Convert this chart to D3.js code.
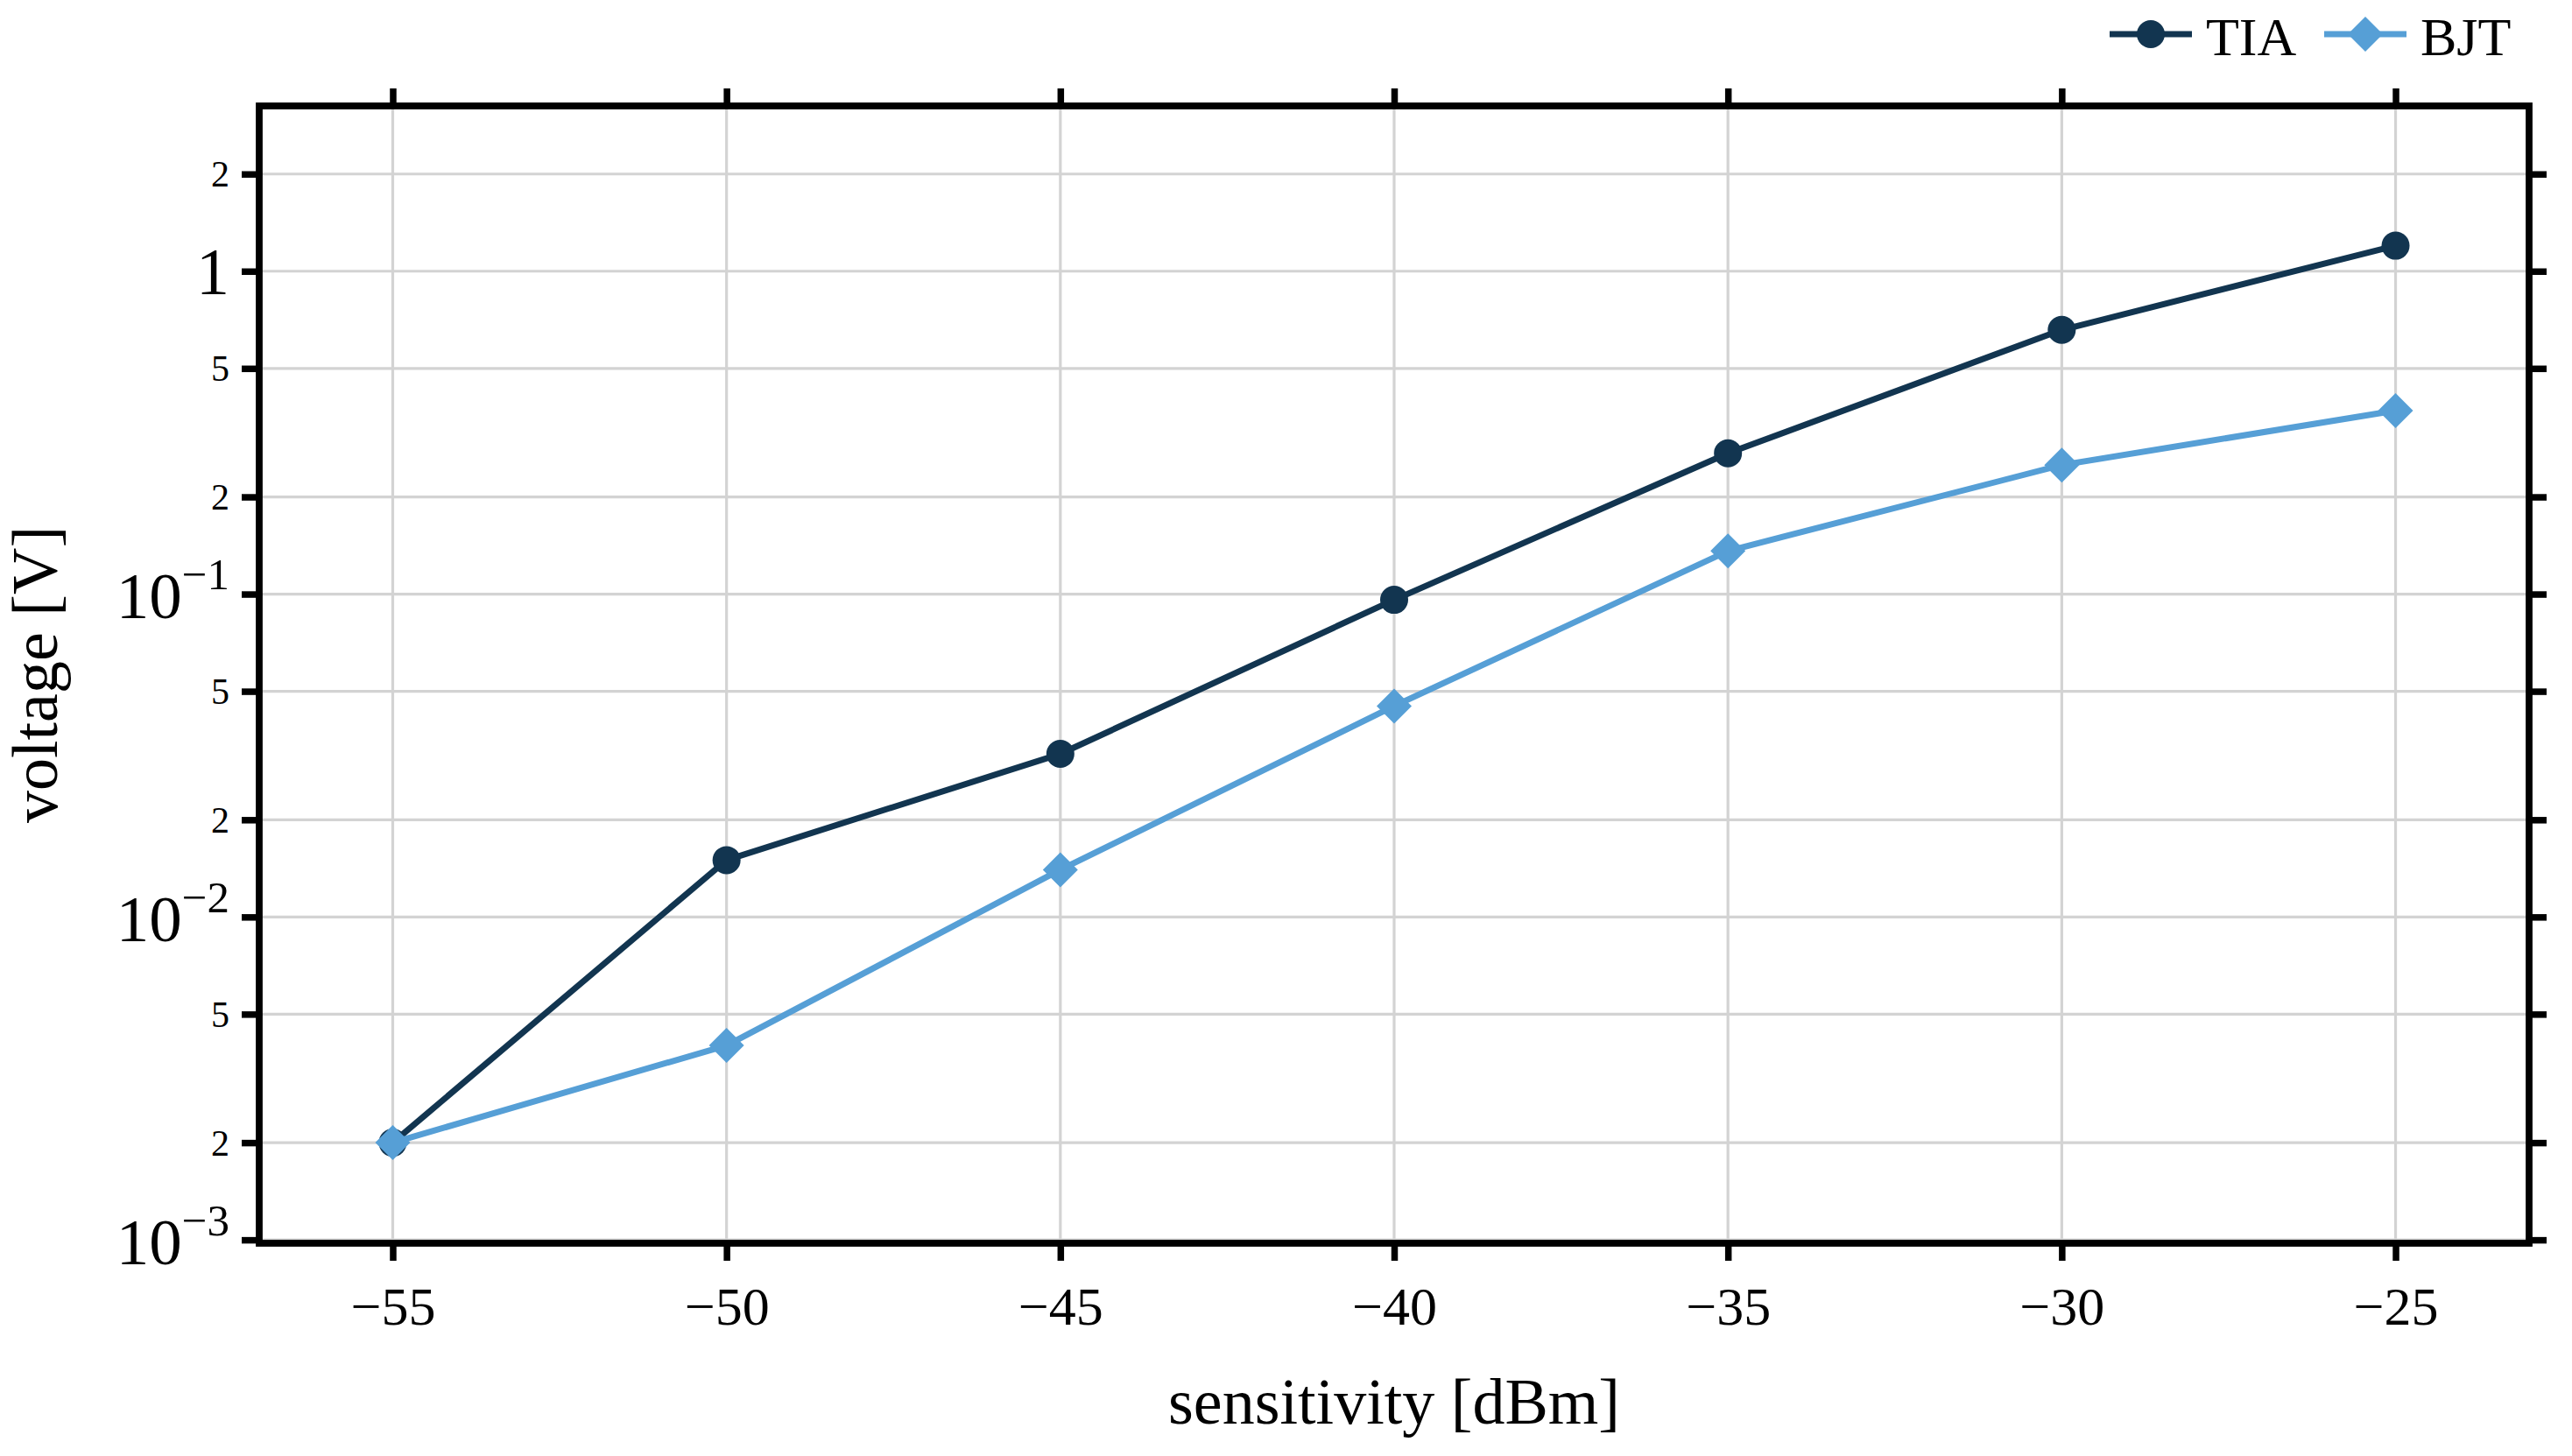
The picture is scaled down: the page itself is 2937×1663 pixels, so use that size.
<!DOCTYPE html>
<html>
<head>
<meta charset="utf-8">
<script src="https://cdn.jsdelivr.net/npm/d3@7"></script>
<style>
  body { margin: 0; background: #fff; }
  text { font-family: "Liberation Serif", "Times New Roman", serif; }
</style>
</head>
<body>
<div id="chart"></div>
<script>
// data
const sensitivity = [-55, -50, -45, -40, -35, -30, -25];
const tiaVoltage = [0.002, 0.015, 0.032, 0.096, 0.273, 0.658, 1.2];
const bjtVoltage = [0.002, 0.004, 0.014, 0.045, 0.136, 0.251, 0.37];
const seriesNames = ["TIA", "BJT"];
const seriesColors = ["#123550", "#569fd6"];

const xTicks = [-55, -50, -45, -40, -35, -30, -25];
const yTicks = [0.001, 0.002, 0.005, 0.01, 0.02, 0.05, 0.1, 0.2, 0.5, 1, 2];
const yTickLabels = [["10", "−3"], ["2"], ["5"], ["10", "−2"], ["2"], ["5"],
                     ["10", "−1"], ["2"], ["5"], ["1"], ["2"]];

const width = 2937, height = 1663;
const plot = { left: 296, right: 2888, top: 121, bottom: 1420 };

const svg = d3.select("#chart").append("svg")
  .attr("width", width)
  .attr("height", height);

const x = d3.scaleLinear().domain([-57, -23]).range([plot.left, plot.right]);
const y = d3.scaleLog().domain([0.000976, 3.25]).range([plot.bottom, plot.top]);

// Grid
svg.append("g").selectAll("line.vgrid")
  .data(xTicks).enter().append("line")
  .attr("x1", d => x(d)).attr("x2", d => x(d))
  .attr("y1", plot.top).attr("y2", plot.bottom)
  .attr("stroke", "#d3d3d3").attr("stroke-width", 3.2);

svg.append("g").selectAll("line.hgrid")
  .data(yTicks).enter().append("line")
  .attr("x1", plot.left).attr("x2", plot.right)
  .attr("y1", d => y(d)).attr("y2", d => y(d))
  .attr("stroke", "#d3d3d3").attr("stroke-width", 3.2);

// Lines + markers
const series = [
  { name: seriesNames[0], values: tiaVoltage, color: seriesColors[0], shape: "circle" },
  { name: seriesNames[1], values: bjtVoltage, color: seriesColors[1], shape: "diamond" }
];

const line = d3.line()
  .x((d, i) => x(sensitivity[i]))
  .y(d => y(d));

const diamond = d3.symbol().type(d3.symbolSquare).size(800);

function drawMarker(g, shape, color, cx, cy) {
  if (shape === "circle") {
    g.append("circle").attr("cx", cx).attr("cy", cy).attr("r", 16).attr("fill", color);
  } else {
    g.append("path").attr("d", diamond())
      .attr("transform", `translate(${cx},${cy}) rotate(45)`)
      .attr("fill", color);
  }
}

series.forEach(s => {
  svg.append("path")
    .datum(s.values)
    .attr("d", line)
    .attr("fill", "none")
    .attr("stroke", s.color)
    .attr("stroke-width", 7)
    .attr("stroke-linejoin", "round");
  const g = svg.append("g");
  s.values.forEach((v, i) => drawMarker(g, s.shape, s.color, x(sensitivity[i]), y(v)));
});

// Axes
const tickW = 7.5;

const xAxisB = svg.append("g")
  .attr("transform", `translate(0,${plot.bottom})`)
  .call(d3.axisBottom(x).tickValues(xTicks).tickSize(20).tickPadding(0)
    .tickFormat(d => d < 0 ? "−" + Math.abs(d) : d));
xAxisB.selectAll("text")
  .attr("y", 93).attr("dy", null)
  .attr("fill", "#000")
  .style("font-size", "62px");

svg.append("g")
  .attr("transform", `translate(0,${plot.top})`)
  .call(d3.axisTop(x).tickValues(xTicks).tickSize(20).tickFormat(""));

const yAxisL = svg.append("g")
  .attr("transform", `translate(${plot.left},0)`)
  .call(d3.axisLeft(y).tickValues(yTicks).tickSize(20).tickPadding(14).tickFormat(""));

yAxisL.selectAll(".tick text").each(function (d, i) {
  const lab = yTickLabels[i];
  const t = d3.select(this).attr("dy", null).attr("fill", "#000");
  if (lab.length === 2) {
    t.attr("y", 27);
    t.append("tspan").style("font-size", "75px").text(lab[0]);
    t.append("tspan").style("font-size", "51px").attr("dy", -33).text(lab[1]);
  } else if (lab[0] === "1") {
    t.attr("y", 26).style("font-size", "76px").text(lab[0]);
  } else {
    t.attr("y", 14).style("font-size", "42px").text(lab[0]);
  }
});

svg.append("g")
  .attr("transform", `translate(${plot.right},0)`)
  .call(d3.axisRight(y).tickValues(yTicks).tickSize(20).tickFormat(""));

svg.selectAll(".domain").remove();
svg.selectAll(".tick line")
  .attr("stroke", "#000")
  .attr("stroke-width", tickW);

// Frame
svg.append("rect")
  .attr("x", plot.left).attr("y", plot.top)
  .attr("width", plot.right - plot.left)
  .attr("height", plot.bottom - plot.top)
  .attr("fill", "none")
  .attr("stroke", "#000")
  .attr("stroke-width", 7.8);

// Axis labels
svg.append("text")
  .attr("x", (plot.left + plot.right) / 2)
  .attr("y", 1626)
  .attr("text-anchor", "middle")
  .style("font-size", "74px")
  .text("sensitivity [dBm]");

svg.append("text")
  .attr("transform", `translate(65,${(plot.top + plot.bottom) / 2}) rotate(-90)`)
  .attr("text-anchor", "middle")
  .style("font-size", "74px")
  .text("voltage [V]");

// Legend
const legendX = [2409, 2654];
series.forEach((s, i) => {
  const g = svg.append("g");
  g.append("line")
    .attr("x1", legendX[i]).attr("x2", legendX[i] + 94)
    .attr("y1", 39).attr("y2", 39)
    .attr("stroke", s.color).attr("stroke-width", 7);
  drawMarker(g, s.shape, s.color, legendX[i] + 47, 39);
  g.append("text")
    .attr("x", legendX[i] + 110)
    .attr("y", 63)
    .style("font-size", "62px")
    .text(s.name);
});
</script>
</body>
</html>
